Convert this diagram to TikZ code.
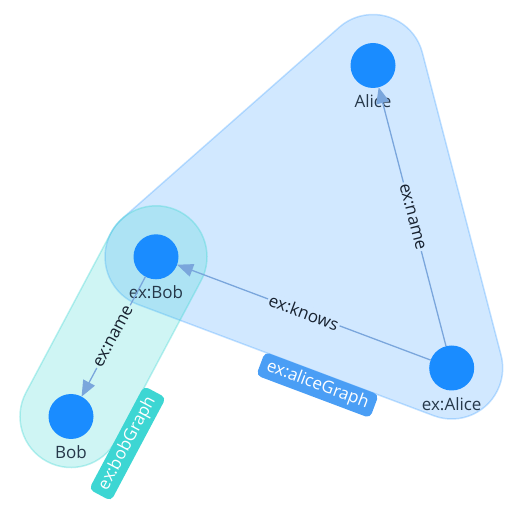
\documentclass[tikz,border=0pt]{standalone}
\usepackage{fontspec}
\setmainfont{Open Sans}
\usetikzlibrary{arrows.meta,calc,backgrounds}
\definecolor{nodeblue}{RGB}{26,140,255}
\definecolor{hullteal}{RGB}{64,214,211}
\definecolor{edgeblue}{RGB}{122,166,220}
\definecolor{labelgray}{RGB}{38,56,74}
\definecolor{labeldark}{RGB}{24,34,48}
\definecolor{tagblue}{RGB}{74,158,245}
\definecolor{tagteal}{RGB}{61,214,211}
\definecolor{bluebg}{RGB}{209,232,255}
\definecolor{tealbg}{RGB}{207,245,244}

\begin{document}
\begin{tikzpicture}[x=1pt,y=1pt,
  font=\fontsize{17}{20}\selectfont,
  res/.style={circle,fill=nodeblue,minimum size=45pt,inner sep=0pt,outer sep=0pt,
    label={[text=labelgray,inner sep=1pt,label distance=5.5pt]below:#1}},
  rel/.style={draw=edgeblue,line width=1.3pt,-{Triangle[length=16pt,width=13pt]}},
  rellabel/.style={midway,sloped,inner sep=1.5pt,text=labeldark},
  graphtag/.style={fill=#1,text=white,rounded corners=5pt,inner xsep=7pt,inner ysep=4pt}]
\useasboundingbox (0,0) rectangle (511,520);
% resources
\node[res=Alice] (alice) at (373,454.5) {};
\node[res=ex:Bob] (exbob) at (156,263.2) {};
\node[res=ex:Alice] (exalice) at (451.7,152) {};
\node[res=Bob] (bob) at (71,103.5) {};
% triples
\draw[rel] (exalice) -- node[rellabel,fill=bluebg] {ex:knows} (exbob);
\draw[rel] (exalice) -- node[rellabel,fill=bluebg] {ex:name} (alice);
\draw[rel] (exbob) -- node[rellabel,fill=tealbg] {ex:name} (bob);
% named graphs
\begin{scope}[on background layer]
\filldraw[fill=nodeblue,fill opacity=0.2,draw=nodeblue,draw opacity=0.25,line width=1.5pt]
  (alice.center) ++(14.6:51) arc[start angle=14.6,end angle=131.4,radius=51]
  -- ($(exbob.center)+(131.4:51)$) arc[start angle=131.4,end angle=249.4,radius=51]
  -- ($(exalice.center)+(249.4:51)$) arc[start angle=249.4,end angle=374.6,radius=51]
  -- cycle;
\filldraw[fill=hullteal,fill opacity=0.25,draw=hullteal,draw opacity=0.35,line width=1.5pt]
  (bob.center) ++(152:51) arc[start angle=152,end angle=332,radius=51]
  -- ($(exbob.center)+(332:51)$) arc[start angle=332,end angle=512,radius=51]
  -- cycle;
\end{scope}
\node[graphtag=tagblue,rotate=-20.6] (alicegraph) at (317.5,135) {ex:aliceGraph};
\node[graphtag=tagteal,rotate=62] (bobgraph) at (127.5,76.5) {ex:bobGraph};
\end{tikzpicture}
\end{document}
